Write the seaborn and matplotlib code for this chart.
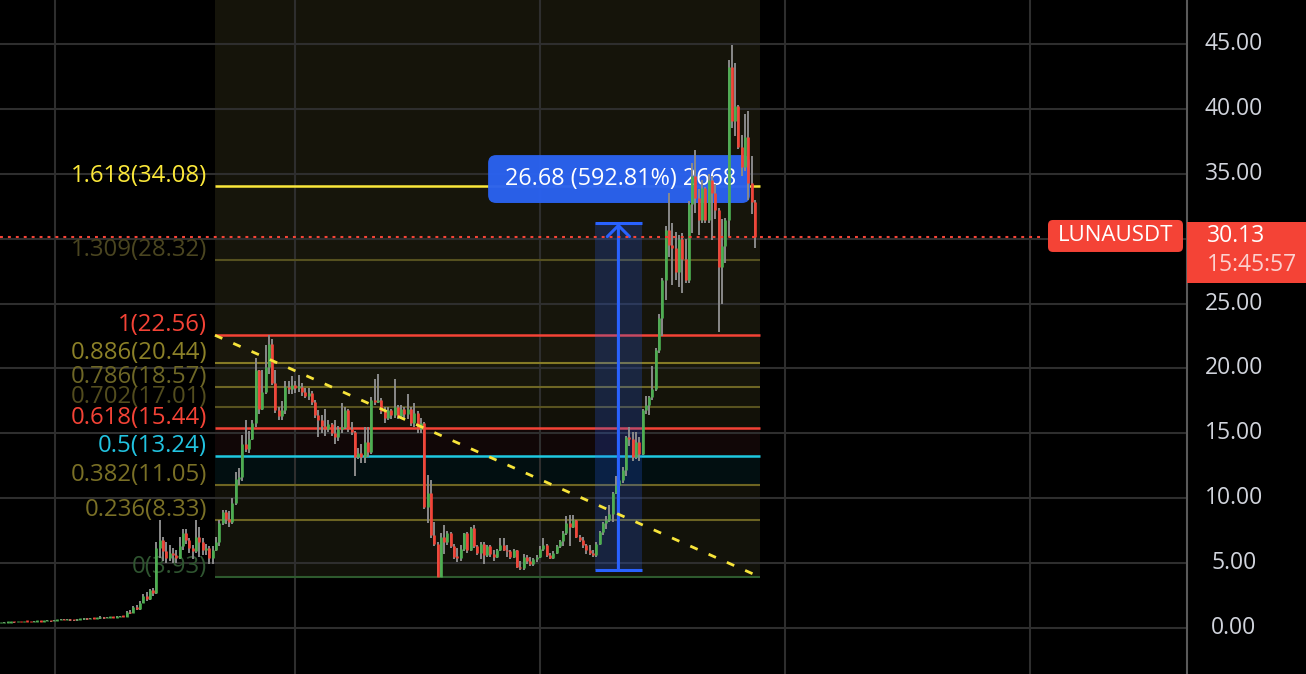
import numpy as np
import pandas as pd
import matplotlib
matplotlib.use("Agg")
import matplotlib.pyplot as plt
import seaborn as sns
from matplotlib.patches import FancyBboxPatch, Rectangle

# ---------------- data ----------------
first_open = 0.37
closes = [
    0.38, 0.40, 0.42, 0.45, 0.44, 0.46, 0.45, 0.48, 0.47, 0.45,
    0.49, 0.52, 0.50, 0.53, 0.55, 0.52, 0.56, 0.60, 0.64, 0.61,
    0.63, 0.60, 0.58, 0.62, 0.66, 0.70, 0.68, 0.72, 0.69, 0.74,
    0.80, 0.76, 0.78, 0.82, 0.79, 0.84, 0.88, 0.86,
    1.20, 1.15, 1.60, 1.45, 1.95, 2.45, 2.20, 2.90, 2.70,
    6.20, 6.80, 5.90, 5.40, 5.80, 5.60, 5.40, 6.30, 7.30, 6.80,
    6.20, 5.90, 7.00, 6.60, 6.00, 6.20, 5.40, 6.00, 6.60, 8.10,
    8.90, 8.40, 8.20,
    9.60, 11.5, 11.6, 14.2, 13.8, 14.6, 15.8, 19.9, 16.9, 18.2, 20.1, 21.9,
    18.9, 16.8, 16.3, 16.8, 18.6, 18.4, 18.7, 18.5, 18.6, 18.2,
    17.9, 18.1, 17.4, 16.4, 16.0, 15.6, 15.3, 15.7, 15.0, 14.7,
    15.3, 15.5, 16.8, 15.3, 15.1, 13.2, 13.5, 13.2, 14.3, 13.6,
    17.6, 17.4, 17.6, 16.7, 16.2, 16.8, 16.4, 17.0, 16.3, 16.9,
    16.5, 16.9, 15.8, 16.6, 15.3, 15.8,
    9.35, 10.4, 7.2, 6.5, 3.96, 7.0,
    6.6, 7.3, 6.3, 5.5, 5.4, 6.1, 7.3, 6.0, 7.7, 6.3,
    5.8, 6.5, 5.6, 6.3, 5.7, 5.5, 6.0, 6.4, 6.0, 5.9,
    5.5, 6.0, 4.7, 4.6, 5.5, 5.2, 4.9, 5.3, 5.5, 6.1,
    6.4, 5.6, 5.4, 5.8, 6.3, 6.7, 7.3, 8.1, 7.8, 8.3,
    7.0, 6.8, 6.4, 6.0, 5.8, 5.6,
    6.5, 7.4, 8.1, 8.3, 8.8, 10.4, 11.0, 11.4, 12.2, 14.7,
    14.6, 13.2, 14.3, 13.4, 16.8, 17.2, 17.8, 18.4, 21.4, 23.9,
    26.8, 30.7, 29.5, 29.3, 27.4, 30.0, 28.4, 26.8, 32.7, 34.8,
    33.1, 31.4, 33.9, 31.4, 34.5, 33.5, 32.2, 27.8, 29.4, 31.4,
    43.2, 39.1, 40.2, 37.1, 35.5, 37.8, 34.3, 32.8, 30.13,
]
highs = [
    0.41, 0.43, 0.45, 0.47, 0.47, 0.48, 0.48, 0.50, 0.50, 0.49,
    0.52, 0.55, 0.54, 0.56, 0.59, 0.57, 0.60, 0.65, 0.70, 0.67,
    0.68, 0.66, 0.63, 0.66, 0.72, 0.78, 0.74, 0.77, 0.76, 0.80,
    0.90, 0.84, 0.83, 0.88, 0.86, 0.90, 0.95, 0.93,
    1.30, 1.35, 1.70, 1.75, 2.05, 2.60, 2.75, 3.00, 3.05,
    6.60, 8.30, 7.00, 6.60, 6.40, 6.20, 6.00, 7.00, 7.60, 7.60,
    6.90, 6.40, 8.30, 7.80, 6.90, 6.50, 6.30, 6.30, 7.00, 8.30,
    9.10, 9.10, 9.00,
    10.0, 12.0, 12.3, 14.9, 16.0, 15.2, 16.0, 20.8, 19.9, 19.9, 21.8, 22.56,
    22.3, 19.9, 17.0, 17.5, 19.0, 19.0, 19.4, 19.0, 19.5, 18.9,
    18.5, 18.5, 18.3, 17.6, 16.8, 16.4, 16.9, 16.0, 15.8, 16.0,
    15.6, 17.3, 17.0, 16.9, 15.9, 15.2, 13.9, 14.2, 15.5, 15.5,
    17.8, 19.2, 19.6, 17.7, 17.0, 17.0, 16.9, 19.2, 17.2, 17.2,
    17.0, 18.0, 17.0, 17.3, 16.7, 16.2,
    15.9, 11.8, 11.4, 8.2, 6.6, 7.3,
    7.9, 7.5, 7.4, 6.5, 6.2, 6.4, 7.3, 7.4, 7.8, 7.9,
    6.4, 6.6, 6.6, 6.4, 6.4, 6.0, 6.1, 6.9, 6.9, 6.4,
    6.0, 6.1, 6.0, 5.2, 5.7, 5.6, 5.5, 5.4, 5.6, 6.3,
    6.9, 6.5, 5.8, 5.9, 6.4, 6.8, 7.5, 8.6, 8.7, 8.7,
    8.3, 7.2, 7.0, 6.5, 6.4, 6.0,
    6.6, 7.5, 8.2, 8.6, 9.5, 10.5, 11.7, 12.2, 12.4, 14.8,
    15.5, 15.1, 15.1, 14.7, 16.9, 17.9, 17.9, 20.2, 21.6, 24.2,
    27.0, 31.0, 33.5, 31.2, 30.5, 30.3, 30.4, 30.0, 32.9, 35.8,
    36.8, 33.8, 34.5, 34.0, 35.0, 34.8, 34.2, 32.4, 31.5, 31.6,
    43.8, 44.9, 43.5, 40.3, 38.0, 39.6, 39.8, 36.4, 33.0,
]
lows = [
    0.35, 0.37, 0.38, 0.41, 0.42, 0.43, 0.43, 0.44, 0.45, 0.43,
    0.44, 0.48, 0.48, 0.49, 0.51, 0.50, 0.51, 0.55, 0.58, 0.59,
    0.59, 0.57, 0.55, 0.56, 0.60, 0.64, 0.65, 0.66, 0.66, 0.67,
    0.72, 0.73, 0.74, 0.76, 0.76, 0.77, 0.82, 0.83,
    0.84, 1.08, 1.12, 1.40, 1.42, 1.90, 2.10, 2.15, 2.50,
    2.65, 5.40, 5.20, 5.00, 5.20, 5.00, 5.00, 5.30, 6.00, 6.50,
    5.80, 5.30, 5.80, 5.50, 5.60, 5.60, 4.90, 4.90, 5.90, 6.30,
    7.90, 8.00, 7.80,
    8.00, 9.50, 11.0, 11.3, 13.6, 13.5, 14.5, 15.5, 16.5, 16.8, 18.0, 19.6,
    18.7, 16.6, 16.0, 16.0, 16.5, 18.0, 18.0, 18.1, 18.2, 17.9,
    17.7, 17.6, 17.2, 16.2, 14.7, 15.0, 14.8, 15.1, 14.8, 14.2,
    14.4, 15.0, 15.3, 15.1, 14.9, 11.7, 13.0, 12.7, 12.7, 13.2,
    13.4, 17.2, 17.3, 16.5, 15.8, 16.0, 16.1, 16.2, 16.1, 16.1,
    16.2, 16.1, 15.6, 15.5, 15.0, 15.0,
    9.2, 8.1, 6.9, 6.3, 3.93, 3.93,
    5.7, 6.4, 6.2, 5.3, 5.1, 5.2, 5.9, 5.8, 5.9, 6.2,
    5.6, 5.3, 4.9, 5.5, 5.5, 5.2, 5.4, 5.9, 5.9, 5.5,
    5.3, 5.4, 4.6, 4.5, 4.5, 4.9, 4.8, 4.8, 5.1, 5.4,
    5.9, 5.5, 5.3, 5.3, 5.7, 6.2, 6.3, 7.2, 6.3, 7.7,
    6.9, 6.6, 6.2, 5.7, 5.6, 5.5,
    5.5, 6.4, 7.2, 7.6, 8.2, 8.2, 10.3, 10.5, 11.2, 11.7,
    14.0, 12.9, 13.0, 12.9, 13.3, 16.5, 16.4, 17.6, 18.3, 21.2,
    22.5, 25.3, 28.6, 26.4, 26.8, 26.3, 25.8, 26.6, 26.6, 30.4,
    32.0, 30.3, 31.2, 31.2, 31.2, 29.9, 31.5, 22.8, 25.0, 28.1,
    30.1, 38.5, 37.9, 36.9, 34.8, 35.2, 33.0, 31.9, 29.3,
]

price_ticks = [0, 5, 10, 15, 20, 25, 30, 35, 40, 45]
grid_bars = [16.3, 88.9, 163.0, 237.1, 311.2]

fib_ratios = ["0", "0.236", "0.382", "0.5", "0.618", "0.702", "0.786", "0.886", "1", "1.309", "1.618"]
fib_prices = [3.93, 8.33, 11.05, 13.24, 15.44, 17.01, 18.57, 20.44, 22.56, 28.32, 34.08]
fib_line_colors = ["#2e5a2e", "#6b6322", "#6e6522", "#1ec8e0", "#f44336", "#58521f",
                   "#6e6624", "#857a26", "#f44336", "#55501f", "#fbe83a"]
fib_text_colors = ["#2f5530", "#7a7026", "#7a7026", "#22c3e0", "#f44336", "#524c1e",
                   "#6e6726", "#8c8128", "#f44336", "#4a4520", "#fbe83a"]
band_colors = ["#12120a", "#111008", "#020f11", "#110707", "#121108", "#141309",
               "#17160b", "#19170c", "#16150b", "#16150b", "#15140a"]
fib_bars = [64.7, 229.5]

measure_bars = [179.6, 193.8]
measure_prices = [4.50, 31.18]
measure_text = "26.68 (592.81%) 2668"
label_box_bars = [147.3, 226.5]
label_box_prices = [32.75, 36.44]

last_price = 30.13
symbol = "LUNAUSDT"
countdown = "15:45:57"

# ---------------- style ----------------
GREEN = "#4caf50"
RED = "#f44336"
WICK = "#8a8a8a"
BLUE = "#2962ff"
GRID = "#2e2e2e"

sns.set_style("dark", rc={"axes.facecolor": "black", "figure.facecolor": "black"})
plt.rcParams["font.family"] = ["Open Sans", "DejaVu Sans"]

W, H = 1306, 674
AX_W = 1187
PX_PER_BAR = 3.307
PX_PER_PRICE = 12.978

fig = plt.figure(figsize=(W / 100, H / 100), dpi=100)
ax = fig.add_axes([0, 0, AX_W / W, 1])
ax.set_facecolor("black")
ax.set_xlim(-1 / PX_PER_BAR, (AX_W - 1) / PX_PER_BAR)
ax.set_ylim(-46 / PX_PER_PRICE, 45 + 44 / PX_PER_PRICE)

ax.set_xticks(grid_bars)
ax.set_yticks(price_ticks)
ax.tick_params(length=0, labelleft=False, labelbottom=False, labelright=False)
ax.grid(True, color=GRID, lw=1.5)
ax.set_axisbelow(True)
for side in ["left", "top", "bottom"]:
    ax.spines[side].set_visible(False)
ax.spines["right"].set_color("#5a5a5a")
ax.spines["right"].set_linewidth(1.5)

# ---------------- fib retracement ----------------
x0, x1 = fib_bars
edges = fib_prices + [60]
for k in range(len(band_colors)):
    ax.fill_between([x0, x1], edges[k], edges[k + 1], color=band_colors[k], lw=0, zorder=0.2)

for ratio, p, lc, tc in zip(fib_ratios, fib_prices, fib_line_colors, fib_text_colors):
    lw = 1.8 if lc in (RED, "#1ec8e0", "#fbe83a") else 1.5
    ax.hlines(p, x0, x1, colors=lc, lw=lw, zorder=3)
    ax.annotate(f"{ratio}({p:.2f})", xy=(x0, p), xytext=(-8, 4), textcoords="offset pixels",
                ha="right", va="baseline", color=tc, fontsize=17.3, zorder=2)

# dashed fib trend line (seaborn)
trend = pd.DataFrame({"bar": fib_bars, "price": [fib_prices[8], fib_prices[0]]})
sns.lineplot(data=trend, x="bar", y="price", ax=ax, color="#f7e43a", lw=2.0, zorder=7)
ax.lines[-1].set_linestyle((0, (2.9, 4.3)))
ax.set_xlabel("")
ax.set_ylabel("")

# ---------------- measure label box ----------------
rs = 8 / PX_PER_BAR
box = FancyBboxPatch((label_box_bars[0], label_box_prices[0]),
                     label_box_bars[1] - label_box_bars[0],
                     label_box_prices[1] - label_box_prices[0],
                     boxstyle=f"round,pad=0,rounding_size={rs}",
                     mutation_aspect=(8 / PX_PER_PRICE) / rs,
                     facecolor="#2a62f0", edgecolor="none", alpha=0.97, zorder=4)
ax.add_patch(box)
ax.text(label_box_bars[0] + 17 / PX_PER_BAR, sum(label_box_prices) / 2, measure_text,
        color="white", fontsize=16.8, ha="left", va="center", zorder=4.5, clip_path=box)

# ---------------- candles ----------------
df = pd.DataFrame({"close": closes, "high": highs, "low": lows})
df["open"] = [first_open] + closes[:-1]
df["bar"] = np.arange(len(df))
up = df["close"] >= df["open"]
body_lo = np.minimum(df["open"], df["close"])
body_hi = np.maximum(np.maximum(df["open"], df["close"]), body_lo + 0.12)
ax.vlines(df["bar"], df["low"], df["high"], colors=WICK, lw=1.4, zorder=5)
ax.vlines(df["bar"], body_lo, body_hi, colors=np.where(up, GREEN, RED), lw=1.9, zorder=5.1)

# ---------------- measure (price range) tool ----------------
mx0, mx1 = measure_bars
ax.add_patch(Rectangle((mx0, measure_prices[0]), mx1 - mx0, measure_prices[1] - measure_prices[0],
                       facecolor=BLUE, alpha=0.22, edgecolor="none", zorder=4.2))
ax.hlines(measure_prices, mx0, mx1, colors=BLUE, lw=2.2, zorder=6)
ax.annotate("", xy=((mx0 + mx1) / 2, measure_prices[1]), xytext=((mx0 + mx1) / 2, measure_prices[0]),
            arrowprops=dict(arrowstyle="->,head_length=0.8,head_width=0.8", color=BLUE, lw=2.2,
                            shrinkA=0, shrinkB=0), zorder=6)

# ---------------- last price line & labels ----------------
ax.plot([ax.get_xlim()[0], (1045 - 1) / PX_PER_BAR], [last_price, last_price], color=RED, lw=1.5,
        linestyle=(0, (1.4, 2.4)), zorder=8)

yt = ax.get_yaxis_transform()
for v in price_ticks:
    ax.text(1234 / AX_W, v, f"{v:.2f}", transform=yt, ha="center", va="center",
            color="#d1d4dc", fontsize=16.5, clip_on=False, zorder=8)

rr = 5 / AX_W
sym_box = FancyBboxPatch((1048 / AX_W, last_price - 15 / PX_PER_PRICE), 135 / AX_W, 32 / PX_PER_PRICE,
                         boxstyle=f"round,pad=0,rounding_size={rr}",
                         mutation_aspect=(5 / PX_PER_PRICE) / rr,
                         transform=yt, facecolor=RED, edgecolor="none", clip_on=False, zorder=9)
ax.add_patch(sym_box)
ax.text((1048 + 67.5) / AX_W, last_price + 0.1, symbol, transform=yt, ha="center", va="center",
        color="white", fontsize=16, clip_on=False, zorder=10)

ax.add_patch(Rectangle((1.0, last_price - 46 / PX_PER_PRICE), (W - AX_W) / AX_W, 61 / PX_PER_PRICE,
                       transform=yt, facecolor=RED, edgecolor="none", clip_on=False, zorder=9))
ax.text(1207 / AX_W, last_price + 0.05, f"{last_price:.2f}", transform=yt, ha="left", va="center",
        color="white", fontsize=16.5, clip_on=False, zorder=10)
ax.text(1207 / AX_W, last_price - 28 / PX_PER_PRICE, countdown, transform=yt, ha="left", va="center",
        color="#fcd2d0", fontsize=16.5, clip_on=False, zorder=10)

fig.savefig("out.png", dpi=100, facecolor="black")
